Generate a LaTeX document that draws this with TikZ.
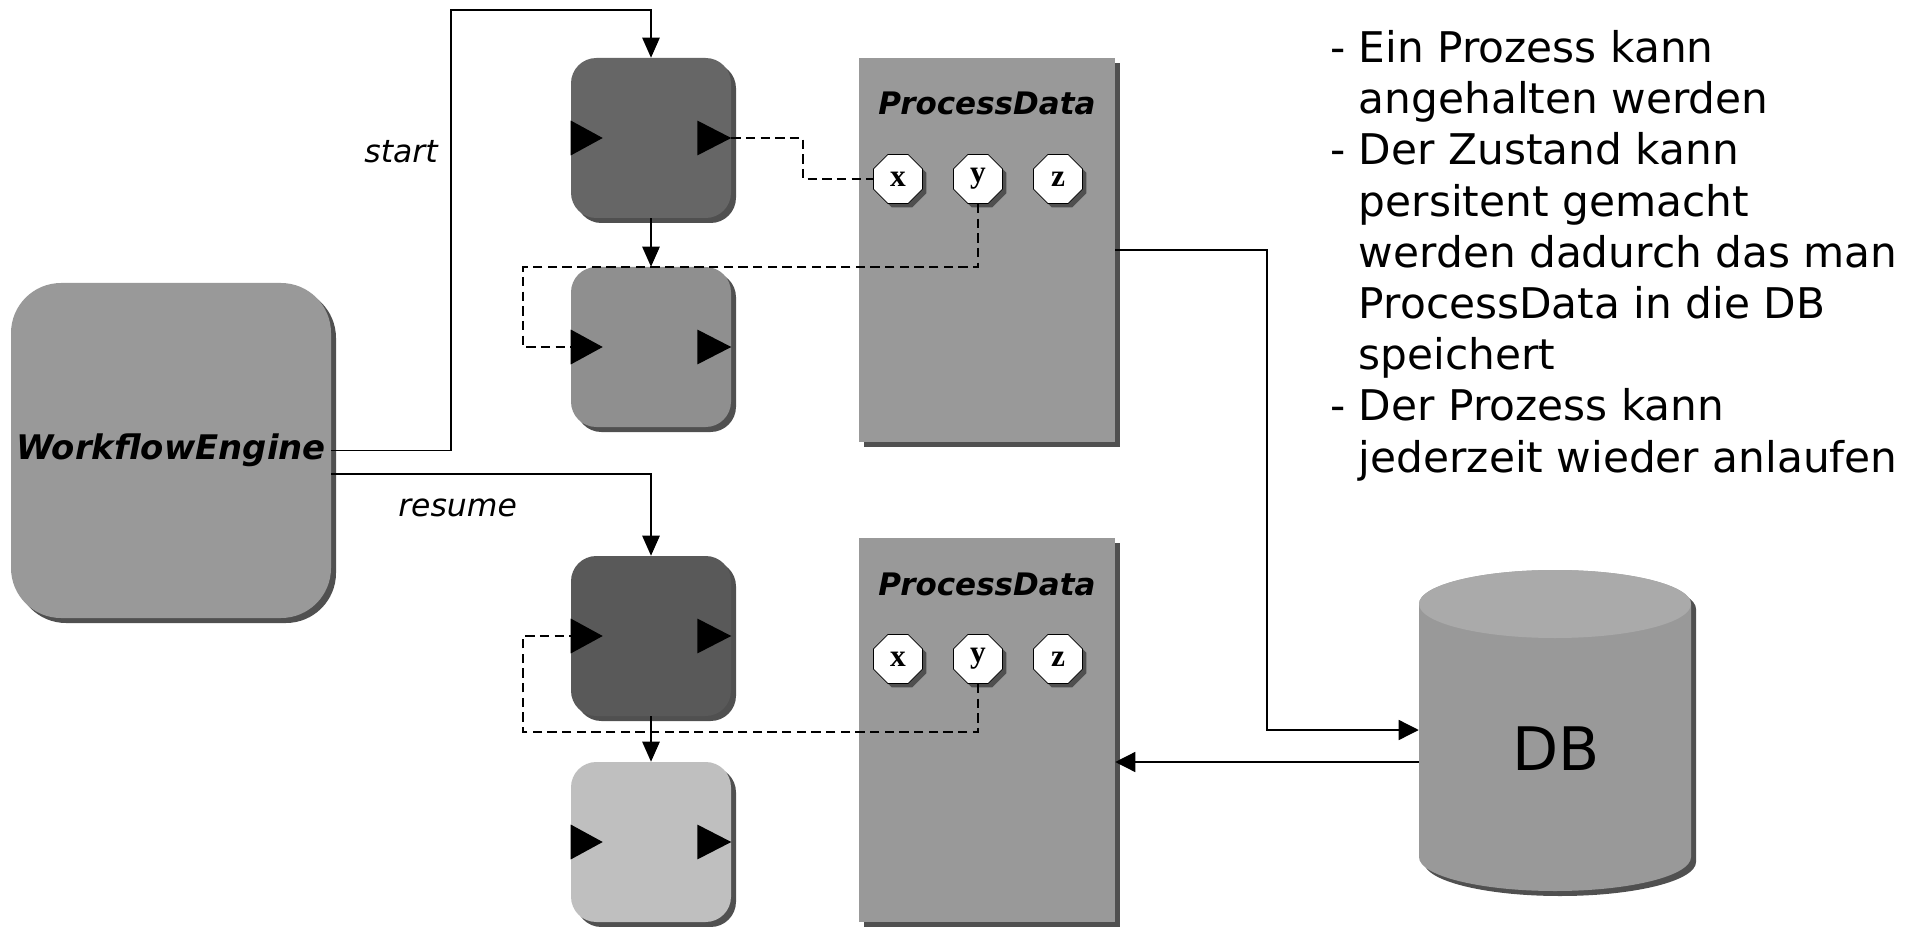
\documentclass[tikz,border=0pt]{standalone}
\usepackage{fontspec}
\setmainfont{DejaVu Sans}
\newfontfamily\octfont{Liberation Serif}
\usetikzlibrary{arrows.meta,shapes.geometric,shadows}
\definecolor{shd}{HTML}{505050}
\definecolor{weg}{HTML}{999999}
\definecolor{bone}{HTML}{666666}
\definecolor{btwo}{HTML}{8F8F8F}
\definecolor{bthree}{HTML}{595959}
\definecolor{bfour}{HTML}{BFBFBF}
\definecolor{pan}{HTML}{999999}
\definecolor{cyltop}{HTML}{AAAAAA}
\begin{document}
\begin{tikzpicture}[x=0.75pt,y=-0.75pt,
  shadowed/.style={general shadow={fill=shd,shadow xshift=3.75pt,shadow yshift=-3.75pt}},
  proc/.style={rectangle,rounded corners=19pt,minimum width=120pt,minimum height=120pt,inner sep=0pt,shadowed},
  panel/.style={rectangle,fill=pan,minimum width=192pt,minimum height=288pt,inner sep=0pt,shadowed},
  var/.style={regular polygon,regular polygon sides=8,minimum size=39.75pt,inner sep=0pt,fill=white,draw=black,line width=0.6pt,
    general shadow={fill=shd,shadow xshift=3pt,shadow yshift=-3pt},font=\octfont\bfseries\fontsize{23.5pt}{24pt}\selectfont},
  conn/.style={line width=1.1pt,-{Triangle[length=15pt,width=13pt]}},
  conntwo/.style={line width=1pt,-{Triangle[length=15pt,width=15pt]}},
  link/.style={line width=1.1pt,dash pattern=on 7pt off 4pt},
  title/.style={anchor=base,inner sep=0pt,font=\bfseries\itshape\fontsize{23.25pt}{28pt}\selectfont},
  lbl/.style={font=\itshape\fontsize{23.6pt}{28pt}\selectfont,inner sep=0pt}]

\fill[white] (0,0) rectangle (1910,927);
\useasboundingbox (0,0) rectangle (1910,927);

% engine
\node[proc,fill=weg,minimum width=240pt,minimum height=251.25pt,rounded corners=37.5pt,
  font=\bfseries\itshape\fontsize{25.4pt}{30pt}\selectfont] (we) at (171,450.5) {WorkflowEngine};

% process steps
\node[proc,fill=bone]   (b1) at (651,138) {};
\node[proc,fill=btwo]   (b2) at (651,347) {};
\node[proc,fill=bthree] (b3) at (651,636) {};
\node[proc,fill=bfour]  (b4) at (651,842) {};
\foreach \b in {b1,b2,b3,b4}{
  \fill ([yshift=13.1pt]\b.west) -- ([xshift=24pt]\b.west) -- ([yshift=-13.1pt]\b.west) -- cycle;
  \fill ([xshift=-25.5pt,yshift=13.1pt]\b.east) -- (\b.east) -- ([xshift=-25.5pt,yshift=-13.1pt]\b.east) -- cycle;
}

% process data panels
\node[panel] (p1) at (987,250) {};
\node[panel] (p2) at (987,729.5) {};
\node[title] (t1) at (987,115) {ProcessData};
\node[title] (t2) at (987,595) {ProcessData};
\node[var] (x1) at (898,179) {x};
\node[var] (y1) at (978,179) {y};
\node[var] (z1) at (1058,179) {z};
\node[var] (x2) at (898,659) {x};
\node[var] (y2) at (978,659) {y};
\node[var] (z2) at (1058,659) {z};

% engine connectors
\coordinate (s1) at (451,10);
\draw[conn] (we.east) -| (s1) -| (b1.north);
\node[lbl,anchor=base east] (ls) at (438,163) {start};
\coordinate (r0) at (0,474);
\draw[conn] (we.east |- r0) -| (b3.north);
\node[lbl,anchor=base west] (lr) at (398,516) {resume};
\draw[conn] (b1.south) -- (b2.north);
\draw[conn] (b3.south) -- (b4.north);

% data links
\coordinate (d1) at (803,160);
\draw[link] (b1.east) -| (d1) |- (x1.west);
\coordinate (d2) at (523,267);
\draw[link] (y1.south) |- (d2) |- (b2.west);
\coordinate (d3) at (523,732);
\draw[link] (y2.south) |- (d3) |- (b3.west);

% database
\node[minimum width=204pt,minimum height=240pt,inner sep=0pt] (db) at (1555,730) {};
\fill[shd,xshift=3.75pt,yshift=-3.75pt] (1419,604) -- (1419,857)
  arc[start angle=180,end angle=360,x radius=102pt,y radius=25.5pt] -- (1691,604)
  arc[start angle=0,end angle=180,x radius=102pt,y radius=25.5pt] -- cycle;
\fill[pan] (1419,604) -- (1419,857)
  arc[start angle=180,end angle=360,x radius=102pt,y radius=25.5pt] -- (1691,604)
  arc[start angle=0,end angle=180,x radius=102pt,y radius=25.5pt] -- cycle;
\fill[cyltop] (1555,604) ellipse [x radius=102pt,y radius=25.5pt];
\node[inner sep=0pt,anchor=base,font=\fontsize{45pt}{54pt}\selectfont] (dbl) at (1556,770) {DB};

\coordinate (r1) at (1267,730);
\draw[conntwo] (p1.east) -| (r1) -- (db.west);
\coordinate (r2) at (1300,762);
\draw[conntwo] (db.west |- r2) -- (p2.east |- r2);

% notes (base anchor = last line)
\node[anchor=base west,inner sep=0pt,align=left,font=\fontsize{31.7pt}{38.4pt}\selectfont] (notes) at (1330,472)
 {- Ein Prozess kann\\\hphantom{- }angehalten werden\\- Der Zustand kann\\\hphantom{- }persitent gemacht\\\hphantom{- }werden dadurch das man\\\hphantom{- }ProcessData in die DB\\\hphantom{- }speichert\\- Der Prozess kann\\\hphantom{- }jederzeit wieder anlaufen};
\end{tikzpicture}
\end{document}
